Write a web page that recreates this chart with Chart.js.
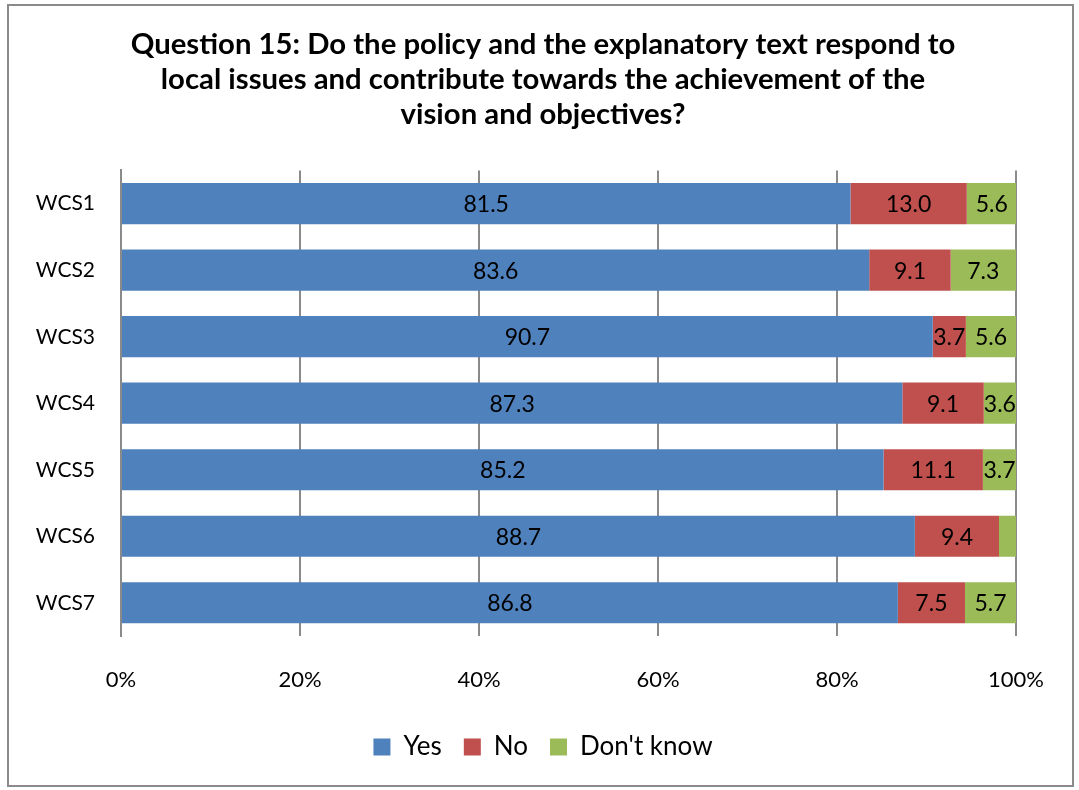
<!DOCTYPE html>
<html>
<head>
<meta charset="utf-8">
<script src="https://cdn.jsdelivr.net/npm/chart.js@4.4.1/dist/chart.umd.min.js"></script>
<style>
  html, body { margin: 0; padding: 0; background: #fff; }
  canvas { display: block; }
</style>
</head>
<body>
<canvas id="q15Chart" width="1079" height="790"></canvas>
<script>
const categories = ['WCS1', 'WCS2', 'WCS3', 'WCS4', 'WCS5', 'WCS6', 'WCS7'];
const yesValues = [81.5, 83.6, 90.7, 87.3, 85.2, 88.7, 86.8];
const noValues = [13.0, 9.1, 3.7, 9.1, 11.1, 9.4, 7.5];
const dontKnowValues = [5.6, 7.3, 5.6, 3.6, 3.7, 1.9, 5.7];
const xTicks = [0, 20, 40, 60, 80, 100];

const FONT = 'Lato, "Noto Sans", sans-serif';

// white page with the grey frame around the whole chart
const frame = {
    id: 'frame',
    beforeDraw(chart) {
        const c = chart.ctx;
        c.save();
        c.fillStyle = '#fff';
        c.fillRect(0, 0, chart.width, chart.height);
        c.strokeStyle = '#8a8a8a';
        c.lineWidth = 2;
        c.strokeRect(8, 5, 1065, 781);
        c.restore();
    }
};

// title and legend are centred on the whole page, not on the padded box
const centreBlocks = {
    id: 'centreBlocks',
    afterLayout(chart) {
        [chart.titleBlock, chart.legend].forEach(b => {
            b.left = 3;
            b.right = 1083;
        });
    }
};

// value labels centred in each segment (tiny ones are left blank)
const segmentLabels = {
    id: 'segmentLabels',
    afterDatasetsDraw(chart) {
        const c = chart.ctx;
        c.save();
        c.font = '23px ' + FONT;
        c.fillStyle = '#000';
        c.textAlign = 'center';
        c.textBaseline = 'middle';
        chart.data.datasets.forEach((ds, i) => {
            chart.getDatasetMeta(i).data.forEach((bar, j) => {
                const v = ds.data[j];
                if (v < 2) return;
                c.fillText(v.toFixed(1), (bar.x + bar.base) / 2, bar.y + 1);
            });
        });
        c.restore();
    }
};

const ctx = document.getElementById('q15Chart').getContext('2d');
new Chart(ctx, {
    type: 'bar',
    data: {
        labels: categories,
        datasets: [
            { label: 'Yes', data: yesValues, backgroundColor: '#4F81BD' },
            { label: 'No', data: noValues, backgroundColor: '#C0504D' },
            { label: "Don't know", data: dontKnowValues, backgroundColor: '#9BBB59' }
        ]
    },
    options: {
        indexAxis: 'y',
        responsive: false,
        animation: false,
        devicePixelRatio: 1,
        layout: { padding: { left: 0, right: 63, top: 0, bottom: 20 } },
        datasets: {
            bar: { categoryPercentage: 1, barPercentage: 0.62, borderWidth: 0 }
        },
        scales: {
            x: {
                stacked: true,
                min: 0,
                max: 100,
                afterBuildTicks(scale) {
                    scale.ticks = xTicks.map(v => ({ value: v }));
                },
                ticks: {
                    callback: v => v + '%',
                    font: { family: FONT, size: 22 },
                    color: '#000',
                    padding: 31,
                    maxRotation: 0
                },
                grid: { color: '#8a8a8a', lineWidth: 2, drawTicks: false },
                border: { display: false },
                afterFit(scale) { scale.height = 76; }
            },
            y: {
                stacked: true,
                ticks: {
                    font: { family: FONT, size: 21 },
                    color: '#000',
                    padding: 26
                },
                grid: { display: false, drawTicks: false },
                border: { display: true, color: '#8a8a8a', width: 2 },
                afterFit(scale) { scale.width = 121; }
            }
        },
        plugins: {
            title: {
                display: true,
                text: [
                    'Question 15: Do the policy and the explanatory text respond to',
                    'local issues and contribute towards the achievement of the',
                    'vision and objectives?'
                ],
                color: '#000',
                font: { family: FONT, size: 29.3, weight: 'bold', lineHeight: 1.2 },
                padding: { top: 27, bottom: 38 }
            },
            legend: {
                position: 'bottom',
                labels: {
                    font: { family: FONT, size: 26 },
                    color: '#000',
                    boxWidth: 17,
                    boxHeight: 17,
                    padding: 22
                }
            },
            tooltip: { enabled: false }
        }
    },
    plugins: [frame, centreBlocks, segmentLabels]
});
</script>
</body>
</html>
